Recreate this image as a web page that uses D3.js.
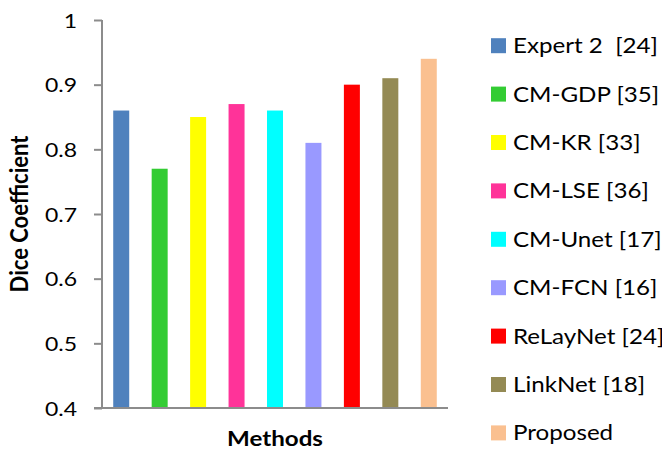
<!DOCTYPE html>
<html>
<head>
<meta charset="utf-8">
<script src="https://cdn.jsdelivr.net/npm/d3@7"></script>
<style>
  body { margin: 0; background: #fff; }
  svg { display: block; font-family: Lato, "Open Sans", sans-serif; }
</style>
</head>
<body>
<script>
// Dice coefficient per segmentation method
const methods = ["Expert 2  [24]", "CM-GDP [35]", "CM-KR [33]", "CM-LSE [36]", "CM-Unet [17]",
                 "CM-FCN [16]", "ReLayNet [24]", "LinkNet [18]", "Proposed"];
const dice = [0.86, 0.77, 0.85, 0.87, 0.86, 0.81, 0.90, 0.91, 0.94];
const colors = ["#4F81BD", "#33CC33", "#FFFF00", "#FF3399", "#00FFFF",
                "#9999FF", "#FF0000", "#948A54", "#FAC090"];
const yTicks = [0.4, 0.5, 0.6, 0.7, 0.8, 0.9, 1];

const W = 662, H = 454;
const sx = 1.15;            // horizontal widening of the glyphs
const axisColor = "#8C8C8C";

const svg = d3.select("body").append("svg")
  .attr("width", W).attr("height", H);

const x = d3.scaleBand().domain(methods)
  .range([102, 448]).paddingInner(0.584).paddingOuter(0.292);
const y = d3.scaleLinear().domain([0.4, 1]).range([408, 20]);

// bars
svg.append("g").selectAll("rect")
  .data(methods.map((m, i) => ({ m, v: dice[i], c: colors[i] })))
  .join("rect")
  .attr("x", d => x(d.m))
  .attr("width", x.bandwidth())
  .attr("y", d => y(d.v))
  .attr("height", d => y(0.4) - y(d.v))
  .attr("fill", d => d.c);

// y axis
const yAxis = svg.append("g").attr("transform", "translate(102,0)")
  .call(d3.axisLeft(y).tickValues(yTicks).tickSize(8).tickPadding(0)
        .tickFormat(d3.format("")));
yAxis.select(".domain").attr("stroke", axisColor).attr("stroke-width", 2)
  .attr("d", `M0,${y(1)}V${y(0.4)}`);
yAxis.selectAll(".tick line").attr("stroke", axisColor).attr("stroke-width", 2);
yAxis.selectAll(".tick text")
  .attr("x", null).attr("dy", null)
  .attr("transform", `translate(-25,7) scale(${sx},1)`)
  .attr("text-anchor", "end")
  .attr("fill", "#000")
  .style("font-size", "20px")
  .style("font-family", "Lato, 'Open Sans', sans-serif");

// x axis
const xAxis = svg.append("g").attr("transform", `translate(0,${y(0.4)})`)
  .call(d3.axisBottom(x).tickSize(0).tickFormat(""));
xAxis.select(".domain").attr("stroke", axisColor).attr("stroke-width", 2)
  .attr("d", `M94,0H448`);

// axis titles
svg.append("text")
  .attr("transform", `translate(275,446) scale(${sx},1)`)
  .attr("text-anchor", "middle")
  .style("font-weight", "bold").style("font-size", "21px")
  .text("Methods");

svg.append("text")
  .attr("transform", `translate(28,214) rotate(-90) scale(1,${sx})`)
  .attr("text-anchor", "middle")
  .style("font-weight", "bold").style("font-size", "22px")
  .text("Dice Coefficient");

// legend
const ly = d3.scaleBand().domain(methods).range([21.5, 457.1]);
const leg = svg.append("g").selectAll("g")
  .data(methods.map((m, i) => ({ m, c: colors[i] })))
  .join("g")
  .attr("transform", d => `translate(491,${ly(d.m) + ly.bandwidth() / 2})`);
leg.append("rect")
  .attr("x", 0).attr("y", -7.5).attr("width", 15).attr("height", 15)
  .attr("fill", d => d.c);
leg.append("text")
  .attr("transform", `translate(22,7.5) scale(${sx},1)`)
  .style("font-size", "21px")
  .style("white-space", "pre")
  .text(d => d.m);
</script>
</body>
</html>
